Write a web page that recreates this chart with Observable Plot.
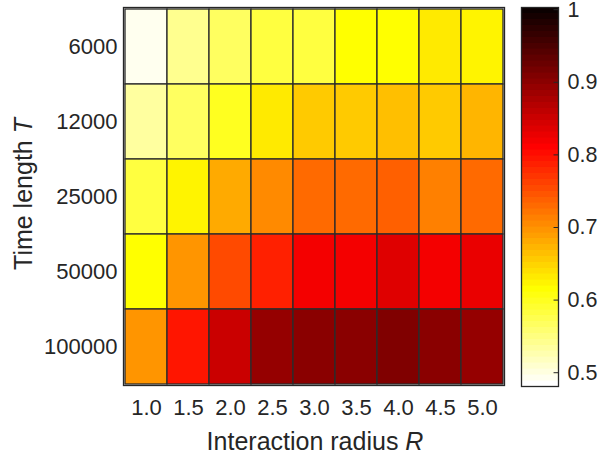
<!DOCTYPE html>
<html>
<head>
<meta charset="utf-8">
<script src="https://cdn.jsdelivr.net/npm/d3@7"></script>
<script src="https://cdn.jsdelivr.net/npm/@observablehq/plot@0.6"></script>
<style>
  body { margin: 0; background: #fff; }
  #chart { position: relative; width: 598px; height: 456px; font-family: "Liberation Sans", Arial, sans-serif; }
  #chart svg { position: absolute; left: 0; top: 0; overflow: visible; }
</style>
</head>
<body>
<div id="chart"></div>
<script>
// Interaction radius R (columns) and time length T (rows)
const radii = [1.0, 1.5, 2.0, 2.5, 3.0, 3.5, 4.0, 4.5, 5.0];
const timeLengths = [6000, 12000, 25000, 50000, 100000];

// Score for each (T, R) pair, one array per time length
const scoreT6000   = [0.497, 0.541, 0.569, 0.580, 0.585, 0.613, 0.613, 0.628, 0.621];
const scoreT12000  = [0.537, 0.569, 0.602, 0.633, 0.653, 0.659, 0.667, 0.659, 0.670];
const scoreT25000  = [0.580, 0.621, 0.677, 0.707, 0.728, 0.728, 0.740, 0.713, 0.728];
const scoreT50000  = [0.613, 0.700, 0.756, 0.789, 0.817, 0.823, 0.832, 0.823, 0.826];
const scoreT100000 = [0.700, 0.793, 0.853, 0.890, 0.905, 0.905, 0.908, 0.902, 0.890];
const scoreRows = [scoreT6000, scoreT12000, scoreT25000, scoreT50000, scoreT100000];

// Colour limits and colorbar ticks
const colorDomain = [0.481, 1.003];
const colorTicks = [0.5, 0.6, 0.7, 0.8, 0.9, 1];
const levels = 64;

// 64-level "hot" colormap, flipped so low values are white and high values black
function hotReversed(t) {
  const k = Math.max(0, Math.min(levels - 1, Math.floor(t * levels)));
  const i = levels - k; // 1-based index into hot(64)
  const r = Math.min(1, i / 24);
  const g = Math.max(0, Math.min(1, (i - 24) / 24));
  const b = Math.max(0, Math.min(1, (i - 48) / 16));
  return d3.rgb(r * 255, g * 255, b * 255).formatHex();
}

const cells = timeLengths.flatMap((T, r) =>
  scoreRows[r].map((v, c) => ({ R: radii[c], T, v }))
);

const ink = "#262626";
const colorScale = { type: "linear", domain: colorDomain, interpolate: hotReversed };

const heatmap = Plot.plot({
  width: 598,
  height: 456,
  marginLeft: 123,
  marginRight: 94,
  marginTop: 7,
  marginBottom: 71,
  style: { fontSize: "22px", fontFamily: "Liberation Sans, Arial, sans-serif", color: ink, background: "transparent" },
  x: { type: "band", domain: radii, padding: 0, label: null, tickSize: 0, tickPadding: 14, tickFormat: d3.format(".1f") },
  y: { type: "band", domain: timeLengths, padding: 0, label: null, tickSize: 0, tickPadding: 6, tickFormat: d => String(d) },
  color: colorScale,
  marks: [
    Plot.cell(cells, { x: "R", y: "T", fill: "v", stroke: "#2b2b2b", strokeWidth: 1.3 }),
    Plot.frame({ stroke: ink, strokeWidth: 1.3 })
  ]
});

// Colorbar: 64 stacked bands spanning the colour limits
const step = (colorDomain[1] - colorDomain[0]) / levels;
const bands = d3.range(levels).map(i => ({
  y1: colorDomain[0] + i * step,
  y2: colorDomain[0] + (i + 1) * step,
  mid: colorDomain[0] + (i + 0.5) * step
}));

const colorbar = Plot.plot({
  width: 598,
  height: 456,
  marginLeft: 521,
  marginRight: 40,
  marginTop: 7,
  marginBottom: 70,
  style: { fontSize: "21.5px", fontFamily: "Liberation Sans, Arial, sans-serif", color: ink, background: "transparent" },
  x: { domain: [0, 1], axis: null },
  y: { domain: colorDomain, axis: "right", label: null, ticks: colorTicks, tickSize: 0, tickPadding: 9,
       tickFormat: d => (d === 1 ? "1" : d.toFixed(1)) },
  color: colorScale,
  marks: [
    Plot.rect(bands, { x1: 0, x2: 1, y1: "y1", y2: "y2", fill: "mid", stroke: "mid", strokeWidth: 0.6, shapeRendering: "crispEdges" }),
    Plot.ruleY(colorTicks, { x1: 0.88, x2: 1, stroke: ink, strokeWidth: 1 }),
    Plot.frame({ stroke: ink, strokeWidth: 1.3 })
  ]
});

const chart = document.getElementById("chart");
chart.append(heatmap, colorbar);

// Axis titles with italic variable symbols
const svg = d3.select(heatmap);
const xTitle = svg.append("text")
  .attr("x", 315).attr("y", 450)
  .attr("text-anchor", "middle")
  .attr("fill", ink)
  .style("font-size", "25px");
xTitle.append("tspan").text("Interaction radius ");
xTitle.append("tspan").attr("font-style", "italic").text("R");

const yTitle = svg.append("text")
  .attr("transform", "translate(32,194) rotate(-90)")
  .attr("text-anchor", "middle")
  .attr("fill", ink)
  .style("font-size", "25px");
yTitle.append("tspan").text("Time length ");
yTitle.append("tspan").attr("font-style", "italic").text("T");
</script>
</body>
</html>
